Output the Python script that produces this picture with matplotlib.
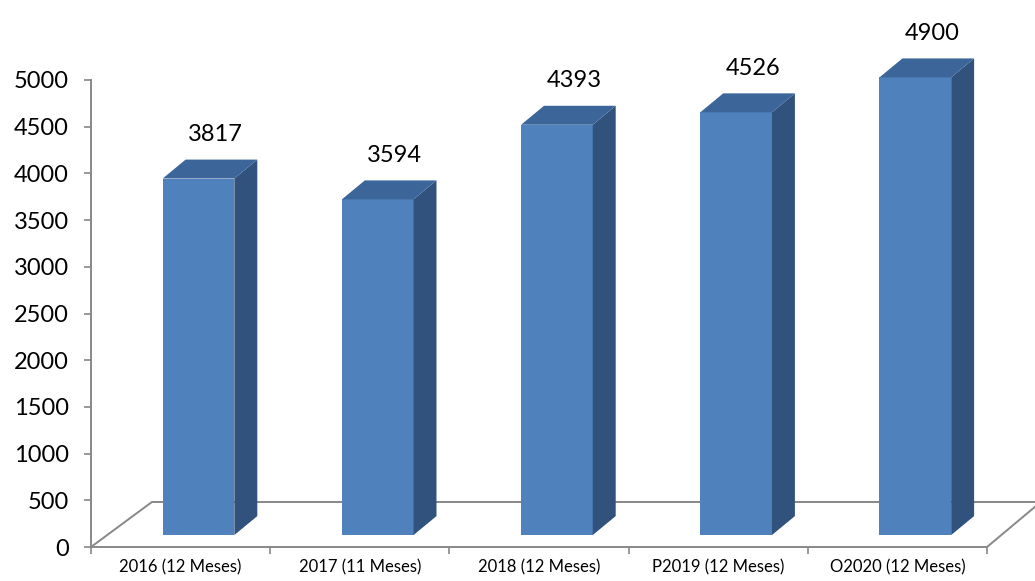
import numpy as np
import matplotlib.pyplot as plt
from matplotlib.patches import Polygon
from matplotlib.lines import Line2D

categories = ['2016 (12 Meses)', '2017 (11 Meses)', '2018 (12 Meses)',
              'P2019 (12 Meses)', 'O2020 (12 Meses)']
values = [3817, 3594, 4393, 4526, 4900]
yticks = list(range(0, 5001, 500))

FRONT = '#4F81BD'
TOP = '#3C669A'
SIDE = '#31527C'
GRAY = '#888888'

plt.rcParams['font.family'] = ['Lato', 'DejaVu Sans']

W, H = 1035, 581
fig = plt.figure(figsize=(W / 100, H / 100), dpi=100)
ax = fig.add_axes([91 / W, 34 / H, 896 / W, 467 / H])
ax.set_xlim(0, len(categories))
ax.set_ylim(0, 5000)

# 3d look: offsets in data units
floor_y = 128      # front bottom of bars sits slightly above the axis
dx, dy = 0.128, 203
fdx, fdy = 0.34, 482

# floor outline
ax.add_line(Line2D([0, fdx, len(categories) + fdx - 0.04, len(categories)],
                   [0, fdy, fdy, 0], color=GRAY, lw=1.4, clip_on=False, zorder=1))

for i, v in enumerate(values):
    x0, x1 = i + 0.40, i + 0.80
    b, t = floor_y, floor_y + v
    ax.add_patch(Polygon([(x0, b), (x1, b), (x1, t), (x0, t)], closed=True,
                         fc=FRONT, ec='none', clip_on=False, zorder=3))
    ax.add_patch(Polygon([(x1, b), (x1 + dx, b + dy), (x1 + dx, t + dy), (x1, t)],
                         closed=True, fc=SIDE, ec='none', clip_on=False, zorder=3))
    ax.add_patch(Polygon([(x0, t), (x1, t), (x1 + dx, t + dy), (x0 + dx, t + dy)],
                         closed=True, fc=TOP, ec='none', clip_on=False, zorder=3))
    ax.text(i + 0.695, v + 599, str(v), ha='center', va='center',
            fontsize=17, color='black', clip_on=False)

for s in ['top', 'right']:
    ax.spines[s].set_visible(False)
for s in ['left', 'bottom']:
    ax.spines[s].set_color(GRAY)
    ax.spines[s].set_linewidth(1.4)

ax.set_yticks(yticks)
ax.set_yticklabels([str(t) for t in yticks], fontsize=17)
ax.tick_params(axis='y', length=5, width=1.2, color=GRAY, pad=11)

ax.set_xticks(np.arange(len(categories)) + 0.5)
ax.set_xticklabels(categories, fontsize=12)
ax.set_xticks(np.arange(len(categories) + 1), minor=True)
ax.tick_params(axis='x', which='major', length=0, pad=9)
ax.tick_params(axis='x', which='minor', length=5, width=1.2, color=GRAY)

fig.savefig('out.png', dpi=100)
